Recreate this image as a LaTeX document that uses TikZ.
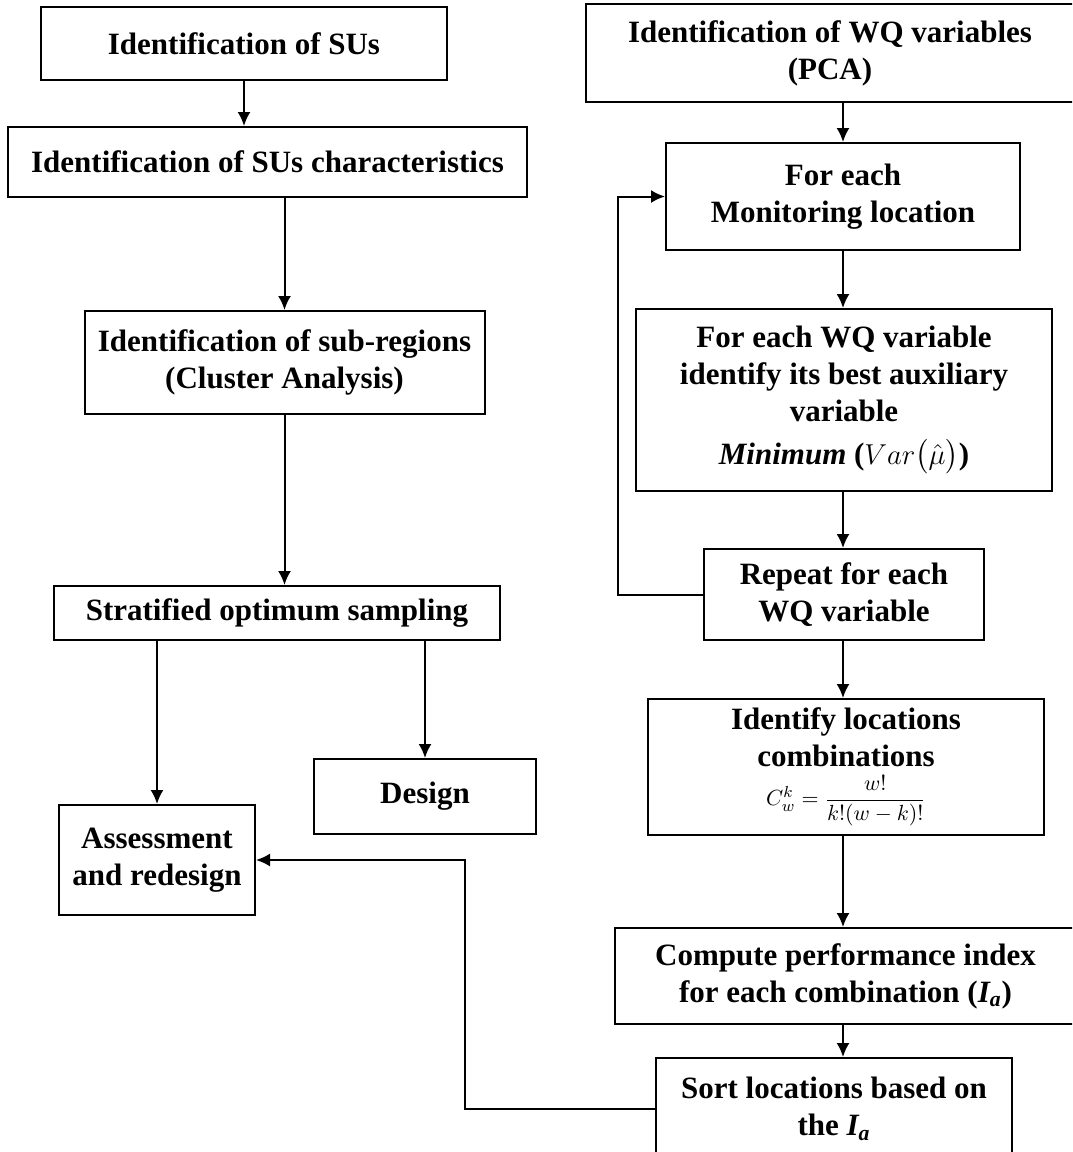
\documentclass[tikz,border=0pt]{standalone}
\usepackage{fontspec}
\setmainfont{Liberation Serif}
\usepackage{amsmath}
\usepackage{tikz}
\usetikzlibrary{arrows.meta}

\begin{document}
\begin{tikzpicture}[x=0.5pt, y=-0.5pt,
    every node/.style={font=\bfseries\fontsize{15.5}{18.5}\selectfont, align=center},
    blk/.style 2 args={draw, line width=1pt, rectangle, inner sep=0pt,
      minimum width=#1*0.5pt, minimum height=#2*0.5pt, anchor=center},
    flow/.style={->, line width=1pt},
    >={Latex[length=7pt,width=6.5pt]}
  ]
  \clip (0,0) rectangle (1072,1152);
  % left branch
  \node[blk={406}{73}] (sus) at (244,43.5) {Identification of SUs};
  \node[blk={519}{70}] (suschar) at (267.5,162) {Identification of SUs characteristics};
  \node[blk={400}{103}] (subreg) at (284.5,362.5) {Identification of sub-regions\\(Cluster Analysis)};
  \node[blk={446}{54}] (strat) at (277,613) {Stratified optimum sampling};
  \node[blk={222}{75}] (design) at (425,796.5) {Design};
  \node[blk={196}{110}] (assess) at (157,860) {Assessment\\and redesign};
  % right branch
  \node[blk={488}{98}] (wqvar) at (830,53) {Identification of WQ variables\\(PCA)};
  \node[blk={354}{107}] (monloc) at (843,196.5) {For each\\Monitoring location};
  \node[blk={416}{182}] (bestaux) at (844,400) {For each WQ variable\\identify its best auxiliary\\variable\\[3pt]
    \textit{Minimum} ({\mdseries$Var\bigl(\hat{\mu}\bigr)$})};
  \node[blk={280}{91}] (repeatwq) at (844,594.5) {Repeat for each\\WQ variable};
  \node[blk={396}{136}] (combos) at (846,767) {Identify locations\\combinations\\[1pt]
    {\mdseries\fontsize{11}{13}\selectfont $C_w^k=\dfrac{w!}{k!(w-k)!}$}};
  \node[blk={461}{96}] (perfidx) at (845.5,976) {Compute performance index\\for each combination (\textit{I\textsubscript{a}})};
  \node[blk={356}{102}] (sortloc) at (834,1109) {Sort locations based on\\the \textit{I\textsubscript{a}}};

  \coordinate (spine) at (843,0);
  \coordinate (loopx) at (618,0);
  \coordinate (backx) at (465,0);

  % connectors
  \draw[flow] (sus.south) -- (sus.south |- suschar.north);
  \draw[flow] (suschar.south -| subreg.north) -- (subreg.north);
  \draw[flow] (subreg.south) -- (subreg.south |- strat.north);
  \draw[flow] (strat.south -| assess.north) -- (assess.north);
  \draw[flow] (strat.south -| design.north) -- (design.north);
  \draw[flow] (wqvar.south -| spine) -- (monloc.north -| spine);
  \draw[flow] (monloc.south -| spine) -- (bestaux.north -| spine);
  \draw[flow] (bestaux.south -| spine) -- (repeatwq.north -| spine);
  \draw[flow] (repeatwq.south -| spine) -- (combos.north -| spine);
  \draw[flow] (combos.south -| spine) -- (perfidx.north -| spine);
  \draw[flow] (perfidx.south -| spine) -- (sortloc.north -| spine);
  \draw[flow] (repeatwq.west) -- (repeatwq.west -| loopx) -- (loopx |- monloc.west) -- (monloc.west);
  \draw[flow] (sortloc.west) -- (sortloc.west -| backx) -- (backx |- assess.east) -- (assess.east);
\end{tikzpicture}
\end{document}
